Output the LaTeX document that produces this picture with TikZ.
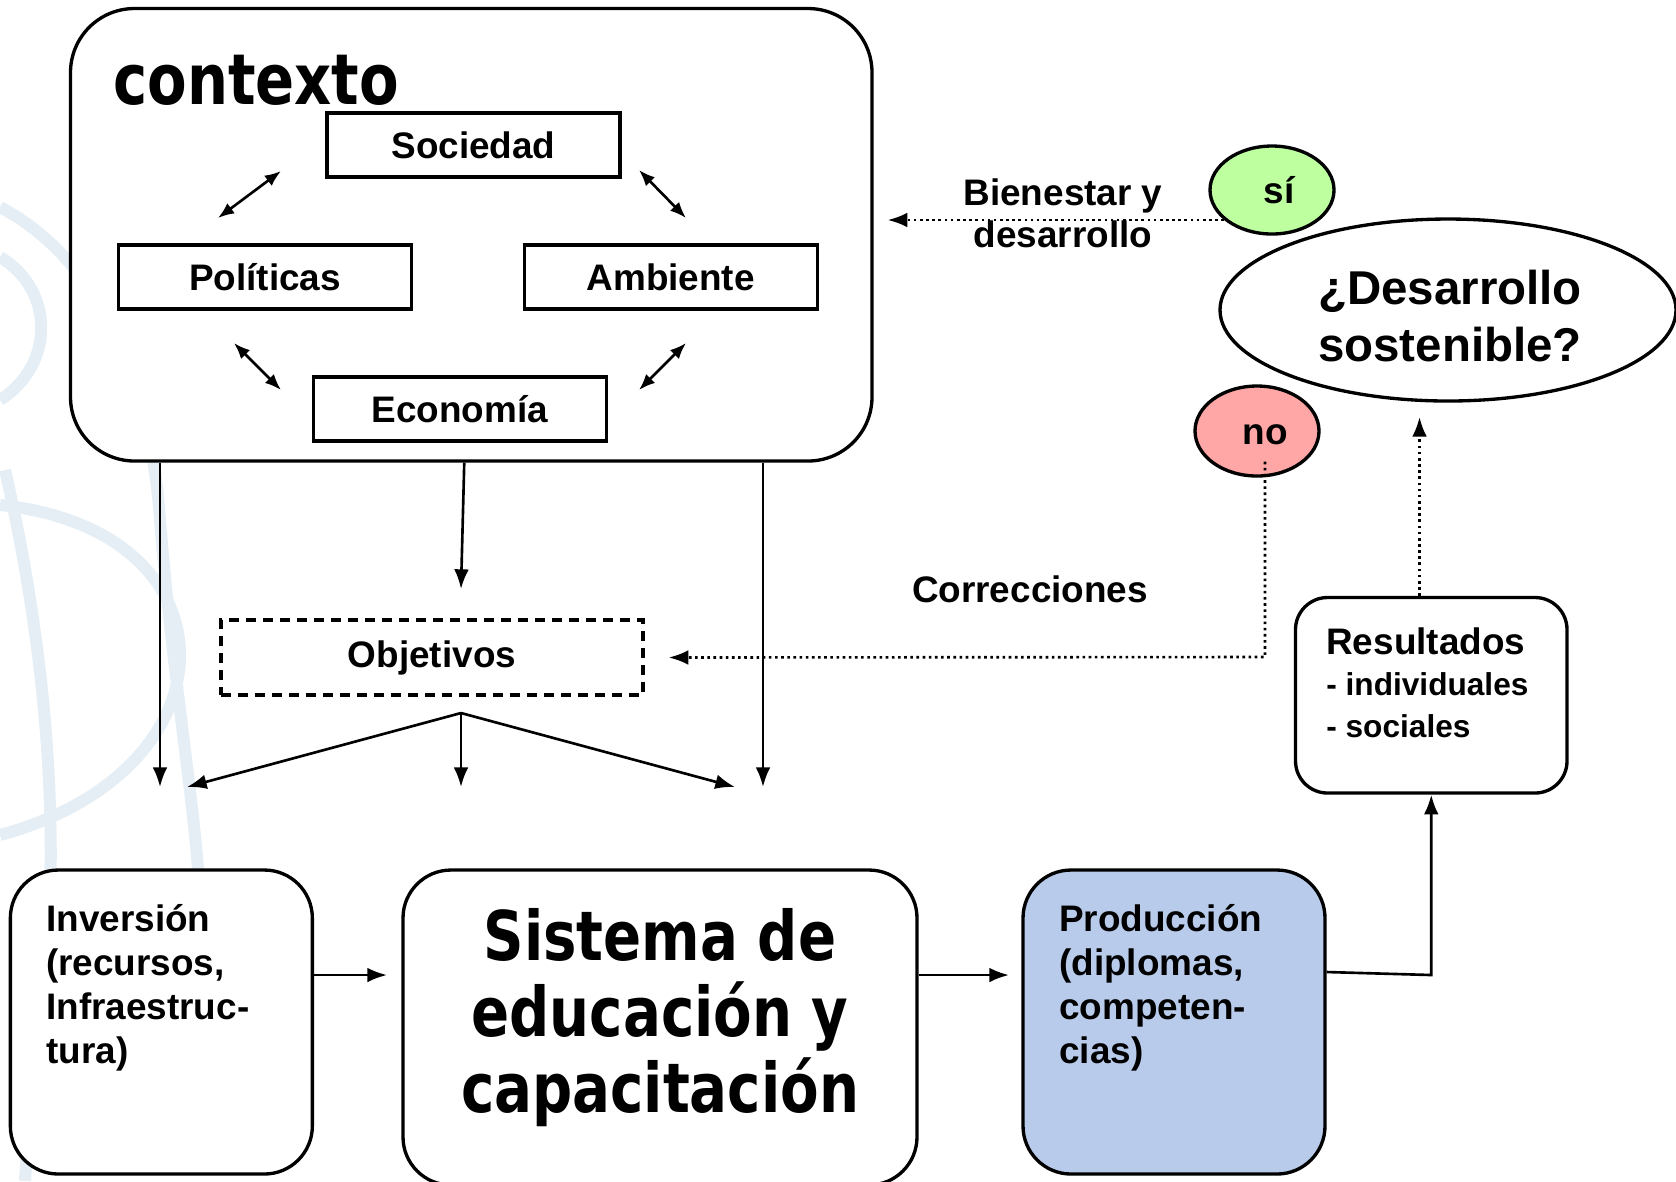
\documentclass[tikz,border=0pt]{standalone}
\usepackage{fontspec}
\setmainfont{Liberation Sans}
\newfontfamily\headfont[FakeStretch=0.82]{DejaVu Sans}
\usetikzlibrary{arrows.meta,shapes.geometric}

\definecolor{sigreen}{RGB}{190,255,160}
\definecolor{nored}{RGB}{255,166,166}
\definecolor{prodblue}{RGB}{185,203,235}
\definecolor{globe}{RGB}{229,238,245}

\begin{document}
\begin{tikzpicture}[x=0.1mm,y=-0.1mm,>={Latex[length=5.6pt,width=4.2pt]},
 line width=0.75pt,font=\bfseries\fontsize{10.5}{12.5}\selectfont]
 \tikzstyle{frame}=[draw,line width=0.95pt,inner sep=0pt]
 \tikzstyle{ctxbox}=[frame,minimum width=29.3mm,minimum height=6.4mm]
 \tikzstyle{bigbox}=[frame,rounded corners=4.8mm,fill=white,
   minimum width=30.2mm,minimum height=30.4mm]
 \tikzstyle{bubble}=[frame,ellipse,minimum width=12.4mm,minimum height=8.8mm]
 \tikzstyle{boxtext}=[anchor=north west,inner sep=0pt,align=left]
 \tikzstyle{feedback}=[->,densely dotted]
 \tikzstyle{mutual}=[{Latex[length=4.6pt,width=3.6pt]}-{Latex[length=4.6pt,width=3.6pt]}]
 \useasboundingbox (0,0) rectangle (1676,1181);

 % globe in the background
 \begin{scope}[globe,line width=1.2mm]
  \draw (0,257) .. controls (55,290) and (55,365) .. (0,400);
  \draw (0,207) .. controls (100,260) and (150,380) .. (160,520)
        .. controls (175,700) and (195,800) .. (200,900);
  \draw (0,505) .. controls (240,530) and (240,770) .. (0,835);
  \draw (5,470) .. controls (35,600) and (55,750) .. (50,900)
        .. controls (45,1000) and (30,1100) .. (25,1181);
 \end{scope}

 % contexto
 \node[bigbox,rounded corners=6.4mm,minimum width=80.15mm,minimum height=45.25mm]
   (ctx) at (471.25,234.75) {};
 \node[anchor=base west,inner sep=0pt,font=\headfont\bfseries\fontsize{20}{24}\selectfont]
   (ctxtxt) at (112,104) {contexto};
 \node[ctxbox] (soc) at (473.5,145) {Sociedad};
 \node[ctxbox] (pol) at (265,277) {Políticas};
 \node[ctxbox] (amb) at (670.7,277) {Ambiente};
 \node[ctxbox] (eco) at (459.7,409) {Economía};

 \coordinate (sp1) at (281,171);  \coordinate (sp2) at (218,218);
 \coordinate (sa1) at (639,170);  \coordinate (sa2) at (686,218);
 \coordinate (pe1) at (234,343);  \coordinate (pe2) at (281,390);
 \coordinate (ae1) at (686,343);  \coordinate (ae2) at (639,390);
 \draw[mutual] (sp1) -- (sp2);
 \draw[mutual] (sa1) -- (sa2);
 \draw[mutual] (pe1) -- (pe2);
 \draw[mutual] (ae1) -- (ae2);

 % objetivos
 \node[frame,dash pattern=on 1mm off 0.7mm,minimum width=42.2mm,minimum height=7.5mm]
   (obj) at (432,657.5) {Objetivos};
 \coordinate (t1) at (160,787);
 \coordinate (t2) at (461,589);
 \coordinate (t3) at (763,787);
 \draw[->] (ctx.south -| t1) -- (t1);
 \draw[->] ([xshift=-0.7mm]ctx.south) -- (t2);
 \draw[->] (ctx.south -| t3) -- (t3);

 \coordinate (hub) at (461,713);
 \coordinate (f1) at (187,787);
 \coordinate (f2) at (461,787);
 \coordinate (f3) at (735,787);
 \draw[->] (hub) -- (f1);
 \draw[->] (hub) -- (f2);
 \draw[->] (hub) -- (f3);

 % sistema
 \node[bigbox] (inv) at (161.35,1022) {};
 \node[boxtext] (invtxt) at (45,903) {Inversión\\(recursos,\\Infraestruc-\\tura)};
 \node[bigbox,minimum width=51.4mm,minimum height=31.5mm] (sis) at (660,1027.5) {};
 \node[align=center,font=\headfont\bfseries\fontsize{19.5}{21.7}\selectfont]
   (sistxt) at (660,1017.5) {Sistema de\\educación y\\capacitación};
 \node[bigbox,fill=prodblue] (prod) at (1174,1022) {};
 \node[boxtext] (prodtxt) at (1058,903) {Producción\\(diplomas,\\competen-\\cias)};

 \node[frame,rounded corners=3.2mm,minimum width=27.15mm,minimum height=19.55mm]
   (res) at (1431.25,695.25) {};
 \node[boxtext,font=\bfseries\fontsize{9}{11.9}\selectfont] (restxt) at (1325,626)
   {{\fontsize{10.5}{11.9}\selectfont Resultados}\\- individuales\\- sociales};

 \coordinate (s-in) at (387,975);
 \coordinate (p-in) at (1009,975);
 \draw[->] (inv.east |- s-in) -- (s-in);
 \draw[->] (sis.east |- p-in) -- (p-in);
 \draw[->] ([yshift=5mm]prod.east) -- (res.south |- p-in) -- (res.south);

 % evaluacion
 \node[frame,ellipse,minimum width=45.6mm,minimum height=18.2mm,align=center,
   font=\bfseries\fontsize{13.5}{16.2}\selectfont] (q) at (1448,310) {};
 \node[align=center,font=\bfseries\fontsize{13.5}{16.2}\selectfont]
   (qtxt) at (1450,316) {¿Desarrollo\\sostenible?};
 \node[bubble,fill=sigreen] (si) at (1272,190) {\hspace{1.4mm}sí};
 \node[bubble,fill=nored,minimum height=9mm] (no) at (1257,431)
   {\raisebox{-1.3mm}[0pt][0pt]{\hspace{1.6mm}no}};

 \coordinate (qin) at (1419.5,417);
 \draw[feedback] (res.north -| qin) -- (qin);

 \draw[feedback,shorten >=1.4mm] (si.212) -- (si.212 -| ctx.east);
 \node[align=center,font=\bfseries\fontsize{10.5}{11.9}\selectfont] (bien) at (1063,213.5)
   {Bienestar y\\desarrollo};

 \coordinate (corr) at (1265,657);
 \draw[feedback,shorten >=2.4mm] ([xshift=0.8mm,yshift=1.6mm]no.south) -- (corr) -- (obj.east);
 \node (corrtxt) at (1030,589) {Correcciones};
\end{tikzpicture}
\end{document}
